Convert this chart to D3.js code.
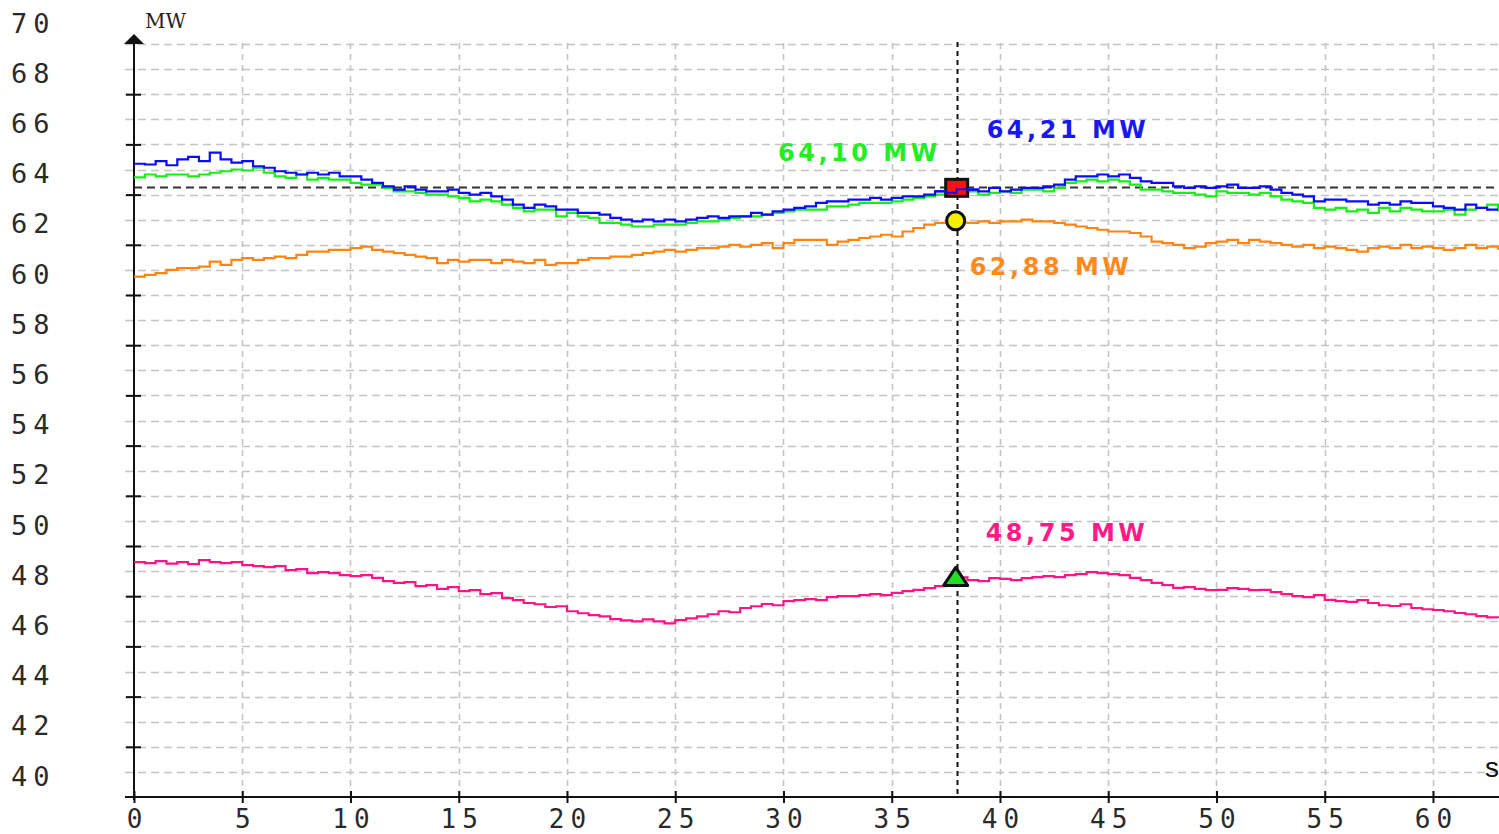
<!DOCTYPE html>
<html><head><meta charset="utf-8">
<script src="https://cdn.jsdelivr.net/npm/d3@7"></script>
<style>html,body{margin:0;padding:0;background:#fff;overflow:hidden}</style>
</head><body>
<svg id="c" width="1499" height="834"></svg>
<script>
// ---- data ----
const sampleStep = 0.5; // seconds between samples
const cursorTime = 38;
const yTicks = [40,42,44,46,48,50,52,54,56,58,60,62,64,66,68,70];
const xTicks = [0,5,10,15,20,25,30,35,40,45,50,55,60];
const seriesNames = ["pink","orange","green","blue"];
const labelTexts = {blue:"64,21 MW", green:"64,10 MW", orange:"62,88 MW", pink:"48,75 MW"};
const cursorValues = {blue:64.21, green:64.10, orange:62.88, pink:48.75};

const blue = [65.23,65.2,65.33,65.17,65.4,65.5,65.33,65.67,65.4,65.27,65.33,65.13,65.07,64.93,64.87,64.8,64.87,64.8,64.87,64.73,64.73,64.6,64.47,64.33,64.2,64.33,64.2,64.13,64.13,64.2,64.07,64.0,
64.07,63.93,63.8,63.6,63.47,63.6,63.53,63.4,63.4,63.27,63.27,63.2,63.07,63.0,62.93,63.0,62.93,63.0,62.93,63.0,63.07,63.13,63.07,63.13,63.13,63.27,63.2,63.33,63.4,63.47,63.53,
63.67,63.73,63.73,63.8,63.8,63.87,63.8,63.87,63.93,63.93,64.0,64.13,64.07,64.21,64.2,64.13,64.27,64.13,64.2,64.27,64.27,64.33,64.4,64.6,64.73,64.73,64.8,64.73,64.8,64.67,64.53,
64.47,64.47,64.33,64.27,64.33,64.27,64.33,64.4,64.27,64.27,64.33,64.2,64.07,64.0,63.93,63.73,63.8,63.8,63.73,63.73,63.6,63.67,63.6,63.73,63.67,63.67,63.53,63.47,63.4,63.6,63.47,63.4,63.4];

const green = [64.69,64.8,64.73,64.8,64.8,64.73,64.8,64.87,64.93,65.0,64.96,65.07,64.87,64.73,64.67,64.8,64.6,64.67,64.6,64.6,64.47,64.4,64.4,64.27,64.13,64.13,64.07,64.0,64.0,63.93,63.87,63.73,
63.8,63.73,63.6,63.47,63.33,63.4,63.4,63.13,63.27,63.13,63.07,62.87,62.87,62.8,62.73,62.73,62.8,62.8,62.8,62.87,62.93,62.93,63.0,63.07,63.13,63.13,63.2,63.27,63.33,63.4,63.4,
63.4,63.53,63.53,63.6,63.67,63.67,63.67,63.73,63.8,63.87,63.93,64.0,64.0,64.1,64.13,64.0,64.07,64.13,64.07,64.2,64.2,64.13,64.27,64.47,64.53,64.6,64.53,64.6,64.53,64.4,64.2,
64.2,64.13,64.07,64.07,64.0,63.93,64.13,64.07,64.07,64.0,64.07,63.93,63.8,63.73,63.67,63.47,63.4,63.47,63.33,63.4,63.27,63.47,63.33,63.47,63.4,63.33,63.33,63.4,63.2,63.4,63.47,63.6,63.33];

const orange = [60.73,60.8,60.87,61.0,61.07,61.07,61.13,61.33,61.2,61.4,61.47,61.4,61.47,61.53,61.47,61.6,61.73,61.73,61.8,61.8,61.87,61.93,61.8,61.73,61.67,61.6,61.53,61.47,61.27,61.4,61.33,61.4,
61.4,61.27,61.4,61.33,61.27,61.4,61.2,61.27,61.27,61.4,61.47,61.47,61.53,61.53,61.6,61.67,61.73,61.8,61.73,61.8,61.87,61.87,61.93,62.0,61.93,62.0,62.07,61.87,62.07,62.2,62.2,
62.2,62.0,62.13,62.2,62.27,62.33,62.4,62.33,62.53,62.67,62.8,62.87,62.87,62.88,62.87,62.93,62.87,62.93,62.93,63.0,62.93,62.93,62.87,62.8,62.73,62.67,62.6,62.53,62.53,62.47,62.33,
62.13,62.07,62.0,61.87,61.93,62.07,62.13,62.2,62.07,62.2,62.13,62.07,62.0,61.93,62.0,61.87,61.93,61.87,61.8,61.73,61.87,61.93,61.87,62.0,61.87,61.93,61.87,61.8,61.87,62.0,61.87,61.93,61.8];

const pink = [49.36,49.32,49.4,49.3,49.36,49.28,49.44,49.36,49.32,49.36,49.24,49.2,49.16,49.2,49.04,49.08,48.92,48.96,48.92,48.84,48.8,48.84,48.73,48.6,48.53,48.56,48.4,48.44,48.29,48.36,48.2,48.24,
48.08,48.12,47.92,47.84,47.73,47.68,47.57,47.6,47.4,47.32,47.25,47.2,47.09,47.04,47.0,47.08,47.0,46.92,47.05,47.12,47.2,47.28,47.4,47.36,47.53,47.6,47.69,47.64,47.8,47.84,47.88,
47.84,47.96,48.0,48.0,48.04,48.08,48.04,48.13,48.2,48.25,48.32,48.4,48.56,48.75,48.64,48.6,48.72,48.69,48.64,48.72,48.76,48.8,48.76,48.84,48.88,48.96,48.92,48.88,48.84,48.73,48.64,
48.53,48.44,48.33,48.36,48.29,48.24,48.25,48.32,48.29,48.24,48.25,48.16,48.08,48.0,47.96,48.04,47.85,47.8,47.77,47.84,47.73,47.64,47.61,47.68,47.53,47.48,47.45,47.4,47.33,47.28,47.21,47.16,47.13];

const seriesData = {blue, green, orange, pink};

// ---- styles ----
const colors = {blue:"#0a0aff", green:"#14f014", orange:"#ff8410", pink:"#ff1488"};
const labelColors = {blue:"#1818f0", green:"#22ee22", orange:"#ff8a1c", pink:"#ff1a8a"};

const svg = d3.select("#c");
const x = d3.scaleLinear().domain([0, 63.05]).range([134, 1499]);
const y = d3.scaleLinear().domain([40, 70]).range([797, 44]);

// grid
const grid = svg.append("g");
const hGrid = d3.range(41, 71);
grid.selectAll("line.h").data(hGrid).join("line")
  .attr("x1", 125).attr("x2", 1499)
  .attr("y1", d => Math.round(y(d)) + 0.5).attr("y2", d => Math.round(y(d)) + 0.5)
  .attr("stroke", "#c4c4c4").attr("stroke-width", 1.6).attr("stroke-dasharray", "8,5");
grid.selectAll("line.v").data(xTicks.filter(d => d > 0)).join("line")
  .attr("x1", d => Math.round(x(d)) + 0.5).attr("x2", d => Math.round(x(d)) + 0.5)
  .attr("y1", 797).attr("y2", 42)
  .attr("stroke", "#c4c4c4").attr("stroke-width", 1.6).attr("stroke-dasharray", "6,5");

// axes
const xAxis = d3.axisBottom(x).tickValues(xTicks).tickSize(6).tickFormat(d => d);
const gx = svg.append("g").attr("transform", "translate(0,797)").call(xAxis);
gx.select(".domain").remove();
gx.selectAll(".tick line").attr("y1", -6).attr("y2", 6).attr("stroke", "#111").attr("stroke-width", 2);
gx.selectAll(".tick text").attr("y", 31).attr("dy", 0)
  .attr("font-family", "DejaVu Sans Mono").attr("font-size", 26).attr("letter-spacing", 6)
  .attr("fill", "#2a2a2a").attr("dx", 3);
svg.append("line").attr("x1", 125).attr("x2", 1499).attr("y1", 797).attr("y2", 797)
  .attr("stroke", "#111").attr("stroke-width", 2);

const yAxis = d3.axisLeft(y).tickValues(yTicks).tickSize(8).tickFormat(d => d);
const gy = svg.append("g").attr("transform", "translate(134,0)").call(yAxis);
gy.select(".domain").remove();
gy.selectAll(".tick line").attr("x1", -8).attr("x2", 7).attr("stroke", "#111").attr("stroke-width", 2)
  .filter(d => d === 40 || d === 70).remove();
gy.selectAll(".tick text").attr("x", -123).attr("dy", "-0.44em").attr("text-anchor", "start")
  .attr("font-family", "DejaVu Sans Mono").attr("font-size", 27).attr("letter-spacing", 6)
  .attr("fill", "#2a2a2a");
svg.append("line").attr("x1", 134).attr("x2", 134).attr("y1", 800).attr("y2", 40)
  .attr("stroke", "#111").attr("stroke-width", 2);
svg.append("path").attr("d", "M134,34 L124,44 L144,44 Z").attr("fill", "#111");
svg.append("text").attr("x", 145).attr("y", 28).text("MW")
  .attr("font-family", "DejaVu Serif").attr("font-size", 20).attr("fill", "#222");
svg.append("text").attr("x", 1485).attr("y", 777).text("s")
  .attr("font-family", "Liberation Sans").attr("font-size", 28).attr("fill", "#111");

// cursor lines
const cx = x(cursorTime);
svg.append("line").attr("x1", 134).attr("x2", 1499)
  .attr("y1", Math.round(y(cursorValues.blue)) - 1.5).attr("y2", Math.round(y(cursorValues.blue)) - 1.5)
  .attr("stroke", "#333").attr("stroke-width", 2).attr("stroke-dasharray", "8,5");
svg.append("line").attr("x1", Math.round(cx) + 0.5).attr("x2", Math.round(cx) + 0.5).attr("y1", 42).attr("y2", 797)
  .attr("stroke", "#111").attr("stroke-width", 2).attr("stroke-dasharray", "5,4");

// series
const line = d3.line().x((d, i) => x(i * sampleStep)).y(d => y(d)).curve(d3.curveStepAfter);
seriesNames.forEach(n => {
  svg.append("path").datum(seriesData[n]).attr("d", line)
    .attr("fill", "none").attr("stroke", colors[n]).attr("stroke-width", 2.2)
    .attr("stroke-linejoin", "miter");
});

// markers
const my = n => y(cursorValues[n]);
svg.append("rect").attr("x", cx - 11).attr("y", my("blue") - 10).attr("width", 22).attr("height", 17)
  .attr("fill", "#ff1010").attr("stroke", "#111").attr("stroke-width", 3);
svg.append("path").datum(seriesData.blue.slice(74, 79))
  .attr("d", d3.line().x((d, i) => x((74 + i) * sampleStep)).y(d => y(d)).curve(d3.curveStepAfter))
  .attr("fill", "none").attr("stroke", colors.blue).attr("stroke-width", 2);
svg.append("circle").attr("cx", cx - 1).attr("cy", my("orange") - 2).attr("r", 9)
  .attr("fill", "#f4f000").attr("stroke", "#111").attr("stroke-width", 3);
svg.append("path")
  .attr("d", `M${cx - 1},${my("pink") - 10} L${cx - 13},${my("pink") + 8} L${cx + 11},${my("pink") + 8} Z`)
  .attr("fill", "#22dd22").attr("stroke", "#111").attr("stroke-width", 3).attr("stroke-linejoin", "round");

// value labels
const labelPos = {blue:{dx:30, dy:-51, anchor:"start"}, green:{dx:-16, dy:-31, anchor:"end"},
                  orange:{dx:13, dy:52, anchor:"start"}, pink:{dx:29, dy:-36, anchor:"start"}};
seriesNames.forEach(n => {
  const p = labelPos[n];
  svg.append("text").attr("x", cx + p.dx).attr("y", my(n) + p.dy).text(labelTexts[n])
    .attr("text-anchor", p.anchor)
    .attr("font-family", "DejaVu Sans").attr("font-weight", "bold").attr("font-size", 24)
    .attr("letter-spacing", 3.5).attr("fill", labelColors[n]);
});
</script>
</body></html>
